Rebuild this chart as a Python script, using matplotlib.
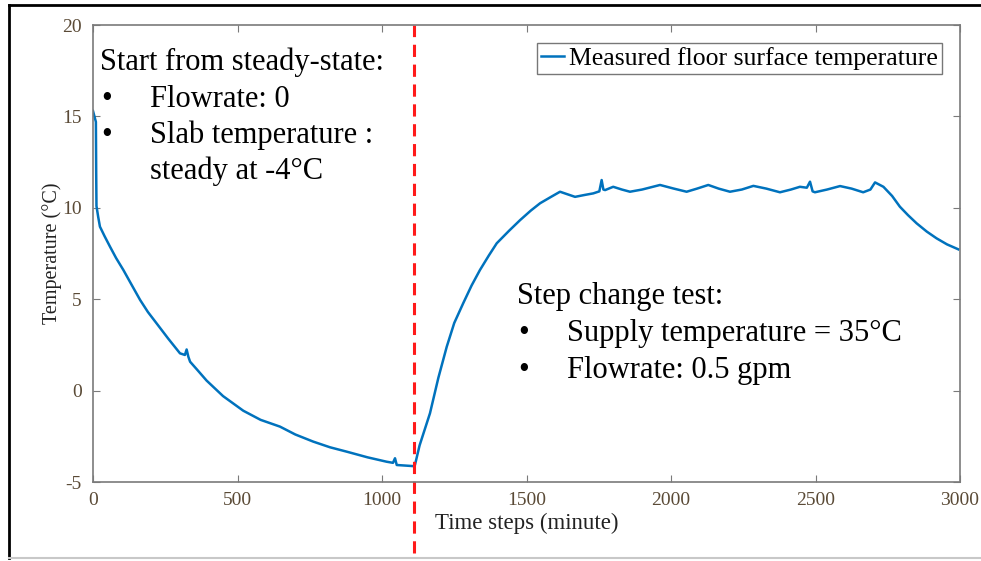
import matplotlib.pyplot as plt
from matplotlib.lines import Line2D

# values
time_min = [0, 5, 10, 11, 12, 18, 24, 40, 59, 80, 105, 135, 163, 190, 220, 260, 301,
            318, 324, 330, 336, 360, 393, 450, 520, 580, 647, 700, 762, 820, 878, 950,
            1016, 1038, 1045, 1051, 1080, 1108, 1114, 1130, 1166, 1195, 1224, 1250, 1281,
            1310, 1339, 1370, 1397, 1440, 1478, 1515, 1547, 1585, 1616, 1640, 1668, 1700,
            1731, 1752, 1760, 1766, 1772, 1800, 1830, 1858, 1900, 1962, 2010, 2054, 2090,
            2129, 2165, 2204, 2245, 2285, 2330, 2377, 2415, 2446, 2470, 2481, 2490, 2498,
            2540, 2585, 2625, 2665, 2690, 2706, 2735, 2765, 2792, 2820, 2850, 2885, 2919,
            2955, 2994]
temp_c = [15.3, 15.0, 14.7, 12.0, 10.1, 9.5, 8.97, 8.45, 7.87, 7.25, 6.6, 5.75, 4.96, 4.3,
          3.68, 2.85, 2.04, 1.95, 2.25, 1.85, 1.58, 1.15, 0.55, -0.3, -1.1, -1.6, -1.97,
          -2.4, -2.79, -3.1, -3.34, -3.65, -3.89, -3.95, -3.7, -4.07, -4.1, -4.13, -4.07,
          -3.0, -1.24, 0.7, 2.4, 3.7, 4.78, 5.75, 6.6, 7.4, 8.06, 8.75, 9.33, 9.85, 10.25,
          10.6, 10.88, 10.75, 10.6, 10.7, 10.79, 10.9, 11.52, 11.0, 10.97, 11.15, 11.0, 10.88,
          11.0, 11.25, 11.05, 10.88, 11.05, 11.25, 11.05, 10.88, 11.0, 11.2, 11.05, 10.85, 11.0,
          11.15, 11.1, 11.43, 10.9, 10.85, 11.0, 11.19, 11.05, 10.85, 11.0, 11.39, 11.15, 10.65,
          10.06, 9.6, 9.15, 8.7, 8.33, 8.0, 7.73]
step_time = 1110

plt.rcParams['font.family'] = ['Liberation Serif', 'DejaVu Serif']
plt.rcParams['axes.unicode_minus'] = False

fig = plt.figure(figsize=(9.81, 5.61), dpi=100)
ax = fig.add_axes([0.0948, 0.1408, 0.8838, 0.8146])

ax.plot(time_min, temp_c, color='#0072BD', lw=1.8, label='Measured floor surface temperature')
ax.axvline(step_time, ymin=-0.155, ymax=1, color='#ff1a1a', lw=2.2,
           linestyle=(0, (4, 2.5)), clip_on=False)

ax.set_xlim(0, 3000)
ax.set_ylim(-5, 20)
ax.set_xticks([0, 500, 1000, 1500, 2000, 2500, 3000])
ax.set_yticks([-5, 0, 5, 10, 15, 20])
ax.tick_params(direction='in', top=True, right=True, length=5, color='#7a7a7a',
               labelsize=14, labelcolor='#5a4a36')
ax.tick_params(axis='x', pad=7)
ax.tick_params(axis='y', pad=8)
for s in ax.spines.values():
    s.set_color('#7a7a7a')
    s.set_linewidth(1.2)

ax.set_xlabel('Time steps (minute)', fontsize=16.5, color='#222222', labelpad=3)
ax.set_ylabel('Temperature (°C)', fontsize=14.5, color='#222222', labelpad=0)

leg = ax.legend(loc='upper right', fontsize=18.5, handlelength=0.9, handletextpad=0.2,
                borderpad=0.15, borderaxespad=0, fancybox=False, edgecolor='#555555',
                bbox_to_anchor=(0.979, 0.9606))
leg.get_frame().set_linewidth(1.0)

tsz = 22
ax.text(0.008, 0.919, 'Start from steady-state:', transform=ax.transAxes, fontsize=tsz,
        va='center')
ax.text(0.010, 0.838, '•', transform=ax.transAxes, fontsize=tsz, va='center')
ax.text(0.066, 0.838, 'Flowrate: 0', transform=ax.transAxes, fontsize=tsz, va='center')
ax.text(0.010, 0.759, '•', transform=ax.transAxes, fontsize=tsz, va='center')
ax.text(0.066, 0.759, 'Slab temperature :', transform=ax.transAxes, fontsize=tsz,
        va='center')
ax.text(0.066, 0.680, 'steady at -4°C', transform=ax.transAxes, fontsize=tsz, va='center')

ax.text(0.489, 0.405, 'Step change test:', transform=ax.transAxes, fontsize=tsz,
        va='center')
ax.text(0.491, 0.324, '•', transform=ax.transAxes, fontsize=tsz, va='center')
ax.text(0.547, 0.324, 'Supply temperature = 35°C', transform=ax.transAxes, fontsize=tsz,
        va='center')
ax.text(0.491, 0.243, '•', transform=ax.transAxes, fontsize=tsz, va='center')
ax.text(0.547, 0.243, 'Flowrate: 0.5 gpm', transform=ax.transAxes, fontsize=tsz,
        va='center')

# outer frame of the screenshot
fig.add_artist(Line2D([0.0092, 0.0092], [0.005, 0.991], transform=fig.transFigure,
                      color='black', lw=2))
fig.add_artist(Line2D([0.0092, 1.0], [0.991, 0.991], transform=fig.transFigure,
                      color='black', lw=2))
fig.add_artist(Line2D([0.0092, 1.0], [0.005, 0.005], transform=fig.transFigure,
                      color='#c8c8c8', lw=1.5))

fig.savefig('out.png', dpi=100)
